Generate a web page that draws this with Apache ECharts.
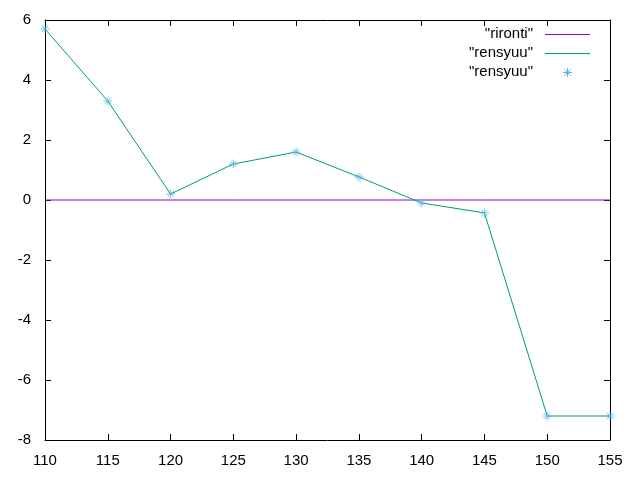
<!DOCTYPE html>
<html><head><meta charset="utf-8">
<script src="https://cdn.jsdelivr.net/npm/echarts@6/dist/echarts.min.js"></script>
<style>html,body{margin:0;padding:0;background:#fff}#c{width:640px;height:480px}</style>
</head><body><div id="c"></div>
<script>
const xValues = [110, 115, 120, 125, 130, 135, 140, 145, 150, 155];
const rironti = [0, 0, 0, 0, 0, 0, 0, 0, 0, 0];
const rensyuu = [5.7, 3.3, 0.2, 1.2, 1.6, 0.77, -0.1, -0.43, -7.2, -7.2];
const legendLabels = ['"rironti"', '"rensyuu"', '"rensyuu"'];
const colors = ['#9400d3', '#009e73', '#56b4e9'];

const pairs = (ys) => xValues.map((x, i) => [x, ys[i]]);
const font = 'Liberation Sans';
const star = 'path://M0,-10L0,10M-10,0L10,0M-7,-7L7,7M-7,7L7,-7';

const chart = echarts.init(document.getElementById('c'), null, {renderer: 'canvas'});
const axisCommon = () => ({
  axisLine: {show: true, onZero: false, lineStyle: {color: '#000', width: 1}},
  axisTick: {show: true, inside: true, length: 6, lineStyle: {color: '#000'}},
  splitLine: {show: false}
});
const starLines = (cx, cy) => [
  [cx, cy - 4.5, cx, cy + 4.5], [cx - 4.5, cy, cx + 4.5, cy],
  [cx - 3, cy - 3, cx + 3, cy + 3], [cx - 3, cy + 3, cx + 3, cy - 3]
].map(s => ({type: 'line', shape: {x1: s[0], y1: s[1], x2: s[2], y2: s[3]},
  style: {stroke: colors[2], lineWidth: 1}}));

const graphics = [];
legendLabels.forEach((t, i) => {
  graphics.push({type: 'text', x: 533, y: 34 + i * 19,
    style: {text: t, font: '15px "' + font + '"', fill: '#000', align: 'right', verticalAlign: 'middle'}});
  if (i < 2) {
    graphics.push({type: 'line', shape: {x1: 545, y1: 34.5 + i * 19, x2: 590, y2: 34.5 + i * 19},
      style: {stroke: colors[i], lineWidth: 1}});
  } else {
    starLines(567.5, 72.5).forEach(g => graphics.push(g));
  }
});

chart.setOption({
  animation: false,
  backgroundColor: '#fff',
  grid: {left: 45, right: 30, top: 20, bottom: 40},
  xAxis: [
    Object.assign({type: 'value', min: 110, max: 155, interval: 5, position: 'bottom',
      axisLabel: {color: '#000', fontFamily: font, fontSize: 15, margin: 13}}, axisCommon()),
    Object.assign({type: 'value', min: 110, max: 155, interval: 5, position: 'top',
      axisLabel: {show: false}}, axisCommon())
  ],
  yAxis: [
    Object.assign({type: 'value', min: -8, max: 6, interval: 2, position: 'left',
      axisLabel: {color: '#000', fontFamily: font, fontSize: 15, margin: 14}}, axisCommon()),
    Object.assign({type: 'value', min: -8, max: 6, interval: 2, position: 'right',
      axisLabel: {show: false}}, axisCommon())
  ],
  series: [
    {type: 'line', name: 'rironti', data: pairs(rironti), showSymbol: false, symbol: 'none',
      lineStyle: {color: colors[0], width: 1}, z: 2},
    {type: 'line', name: 'rensyuu', data: pairs(rensyuu), showSymbol: false, symbol: 'none',
      lineStyle: {color: colors[1], width: 1}, z: 3},
    {type: 'scatter', name: 'rensyuu pts', data: pairs(rensyuu), symbol: star, symbolSize: 9,
      itemStyle: {color: 'rgba(0,0,0,0)', borderColor: colors[2], borderWidth: 1}, z: 4}
  ],
  graphic: graphics
});
</script></body></html>
